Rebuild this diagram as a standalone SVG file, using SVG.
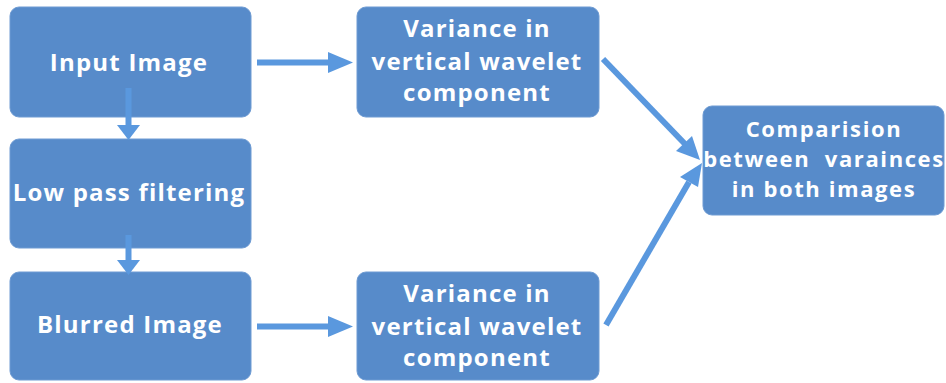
<svg xmlns="http://www.w3.org/2000/svg" width="946" height="383" viewBox="0 0 946 383">
<style>
.box{fill:#578BCA;stroke:#6E9BD3;stroke-width:1}
.t{font-family:"Open Sans","Liberation Sans",sans-serif;font-weight:700;fill:#ffffff;text-anchor:middle}
.l{font-size:24px;letter-spacing:1.2px}
.s{font-size:22px;letter-spacing:1.6px}
.c{stroke:#5A98DE;stroke-width:6;fill:none}
.h{fill:#5A98DE}
</style>
<rect width="946" height="383" fill="#ffffff"/>
<g id="input">
<rect class="box" x="10" y="7" width="241" height="110" rx="9"/>
<text class="t l" x="129" y="71">Input Image</text>
</g>
<g id="lowpass">
<rect class="box" x="10" y="139" width="241" height="109" rx="9"/>
<text class="t l" x="129" y="201">Low pass filtering</text>
</g>
<g id="blurred">
<rect class="box" x="10" y="272" width="241" height="108" rx="9"/>
<text class="t l" x="130" y="333">Blurred Image</text>
</g>
<g id="var1">
<rect class="box" x="357" y="7" width="242" height="110" rx="9"/>
<text class="t l" x="477" y="37">Variance in</text>
<text class="t l" x="477" y="70">vertical wavelet</text>
<text class="t l" x="477" y="101">component</text>
</g>
<g id="var2">
<rect class="box" x="357" y="272" width="242" height="108" rx="9"/>
<text class="t l" x="477" y="302">Variance in</text>
<text class="t l" x="477" y="335">vertical wavelet</text>
<text class="t l" x="477" y="366">component</text>
</g>
<g id="compare">
<rect class="box" x="703" y="106" width="241" height="109" rx="9"/>
<text class="t s" x="824" y="137">Comparision</text>
<text class="t s" x="824" y="167" xml:space="preserve">between  varainces</text>
<text class="t s" x="824" y="197">in both images</text>
</g>
<g id="connectors">
<line class="c" x1="128.5" y1="88" x2="128.5" y2="126"/>
<polygon class="h" points="117,125 140,125 128.5,140"/>
<line class="c" x1="128.5" y1="235" x2="128.5" y2="261"/>
<polygon class="h" points="117,260 140,260 128.5,275"/>
<line class="c" x1="257" y1="62.5" x2="330" y2="62.5"/>
<polygon class="h" points="328,52 353,62.5 328,73"/>
<line class="c" x1="257" y1="326.5" x2="330" y2="326.5"/>
<polygon class="h" points="328,316 353,326.5 328,337"/>
<line class="c" x1="603" y1="59" x2="685" y2="144"/>
<polygon class="h" points="676,151 692,136 700,160"/>
<line class="c" x1="606" y1="325" x2="689" y2="182"/>
<polygon class="h" points="680,177 698,187 702,163"/>
</g>
</svg>
